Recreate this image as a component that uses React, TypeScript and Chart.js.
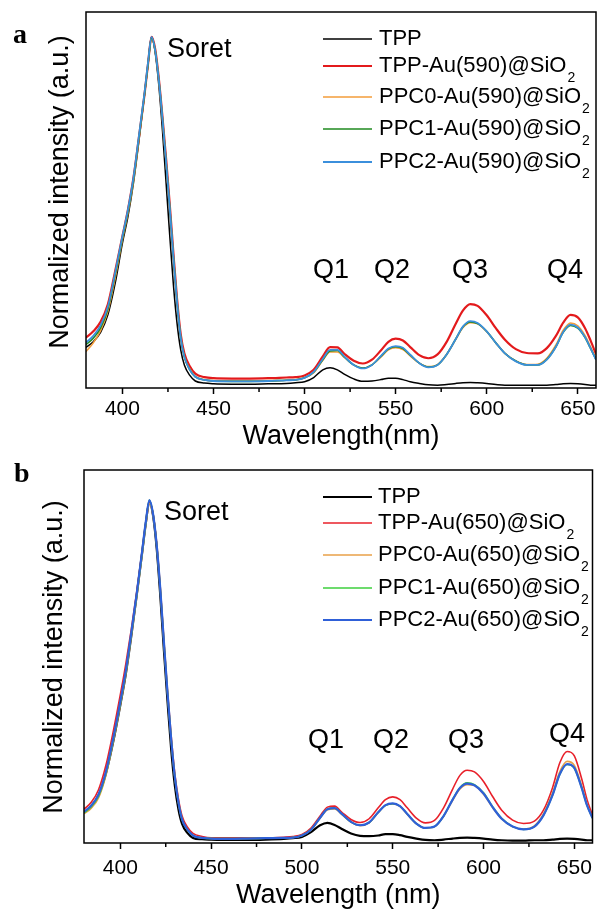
import React, { useEffect, useRef } from 'react';
import { Chart, registerables } from 'chart.js';
Chart.register(...registerables);

const SANS = "'Liberation Sans', Arial, sans-serif";
const SERIF = "'Liberation Serif', 'Times New Roman', serif";
Chart.defaults.font.family = SANS;

// wavelength grid (nm)
const WAVELENGTH = [
  380, 384, 388, 392, 396, 400, 403, 406, 409, 412, 414, 416, 418, 420, 422,
  424, 426, 428, 430, 432, 434, 437, 440, 445, 450, 460, 470, 480, 490, 495,
  500, 505, 510, 514, 518, 522, 527, 532, 537, 542, 546, 550, 554, 558, 563,
  568, 573, 578, 583, 587, 591, 595, 600, 605, 610, 616, 622, 628, 633, 638,
  642, 646, 650, 654, 657, 660,
];
const X_TICKS = [400, 450, 500, 550, 600, 650];
const X_MINOR = [425, 475, 525, 575, 625];

// ---- panel a ----
const A_TPP = [
  0.112, 0.128, 0.155, 0.205, 0.295, 0.410, 0.485, 0.580, 0.700, 0.830,
  0.920, 1.000, 0.955, 0.860, 0.730, 0.580, 0.430, 0.290, 0.180, 0.105,
  0.062, 0.032, 0.016, 0.010, 0.008, 0.007, 0.007, 0.008, 0.009, 0.011,
  0.014, 0.026, 0.048, 0.054, 0.048, 0.035, 0.022, 0.015, 0.016, 0.020,
  0.024, 0.024, 0.020, 0.014, 0.009, 0.005, 0.004, 0.006, 0.009, 0.011,
  0.012, 0.011, 0.009, 0.006, 0.004, 0.004, 0.004, 0.004, 0.004, 0.006,
  0.008, 0.009, 0.008, 0.006, 0.004, 0.004,
];
const A_TPP_AU = [
  0.140, 0.158, 0.185, 0.235, 0.330, 0.430, 0.505, 0.595, 0.710, 0.830,
  0.920, 1.000, 0.965, 0.880, 0.770, 0.650, 0.520, 0.380, 0.250, 0.150,
  0.095, 0.058, 0.037, 0.027, 0.024, 0.023, 0.023, 0.024, 0.026, 0.027,
  0.032, 0.048, 0.086, 0.113, 0.112, 0.093, 0.074, 0.066, 0.077, 0.104,
  0.128, 0.137, 0.132, 0.113, 0.090, 0.081, 0.092, 0.128, 0.180, 0.218,
  0.236, 0.231, 0.204, 0.167, 0.134, 0.107, 0.096, 0.095, 0.110, 0.145,
  0.183, 0.205, 0.198, 0.167, 0.132, 0.092,
];
const A_PPC0 = [
  0.100, 0.125, 0.160, 0.215, 0.310, 0.420, 0.495, 0.585, 0.705, 0.830,
  0.920, 0.995, 0.960, 0.875, 0.765, 0.640, 0.510, 0.370, 0.240, 0.140,
  0.085, 0.050, 0.029, 0.020, 0.017, 0.016, 0.016, 0.017, 0.018, 0.020,
  0.025, 0.040, 0.075, 0.099, 0.099, 0.083, 0.062, 0.053, 0.062, 0.085,
  0.105, 0.111, 0.106, 0.088, 0.067, 0.057, 0.063, 0.092, 0.135, 0.169,
  0.183, 0.180, 0.157, 0.125, 0.095, 0.073, 0.063, 0.064, 0.081, 0.119,
  0.161, 0.182, 0.174, 0.146, 0.114, 0.081,
];
const A_PPC1 = [
  0.120, 0.138, 0.168, 0.222, 0.320, 0.425, 0.500, 0.590, 0.710, 0.830,
  0.920, 0.997, 0.960, 0.875, 0.765, 0.640, 0.510, 0.370, 0.240, 0.140,
  0.085, 0.048, 0.028, 0.019, 0.016, 0.015, 0.015, 0.016, 0.018, 0.019,
  0.025, 0.041, 0.077, 0.102, 0.103, 0.084, 0.062, 0.053, 0.062, 0.087,
  0.107, 0.114, 0.109, 0.090, 0.067, 0.056, 0.062, 0.092, 0.136, 0.171,
  0.185, 0.180, 0.158, 0.125, 0.095, 0.073, 0.062, 0.062, 0.078, 0.114,
  0.155, 0.175, 0.167, 0.140, 0.109, 0.077,
];
const A_PPC2 = [
  0.126, 0.145, 0.175, 0.228, 0.325, 0.430, 0.505, 0.595, 0.715, 0.835,
  0.925, 1.000, 0.960, 0.875, 0.765, 0.640, 0.510, 0.370, 0.240, 0.140,
  0.085, 0.048, 0.028, 0.019, 0.016, 0.015, 0.015, 0.016, 0.018, 0.019,
  0.025, 0.042, 0.079, 0.105, 0.105, 0.085, 0.062, 0.052, 0.062, 0.088,
  0.109, 0.116, 0.111, 0.091, 0.067, 0.055, 0.062, 0.092, 0.136, 0.172,
  0.187, 0.182, 0.158, 0.125, 0.095, 0.072, 0.062, 0.062, 0.077, 0.114,
  0.156, 0.177, 0.169, 0.141, 0.110, 0.077,
];

// ---- panel b ----
const B_TPP = [
  0.085, 0.102, 0.135, 0.198, 0.290, 0.400, 0.490, 0.600, 0.720, 0.845,
  0.930, 0.995, 0.955, 0.860, 0.720, 0.560, 0.410, 0.270, 0.165, 0.095,
  0.052, 0.025, 0.011, 0.007, 0.006, 0.005, 0.005, 0.006, 0.008, 0.010,
  0.014, 0.028, 0.048, 0.055, 0.049, 0.037, 0.024, 0.017, 0.016, 0.018,
  0.022, 0.022, 0.019, 0.014, 0.009, 0.005, 0.004, 0.006, 0.009, 0.011,
  0.012, 0.011, 0.009, 0.006, 0.004, 0.003, 0.003, 0.004, 0.004, 0.006,
  0.008, 0.009, 0.008, 0.006, 0.004, 0.004,
];
const B_TPP_AU = [
  0.095, 0.115, 0.152, 0.222, 0.320, 0.430, 0.520, 0.620, 0.730, 0.850,
  0.930, 0.995, 0.960, 0.875, 0.745, 0.590, 0.440, 0.310, 0.200, 0.125,
  0.075, 0.042, 0.024, 0.015, 0.011, 0.011, 0.011, 0.011, 0.013, 0.015,
  0.021, 0.040, 0.075, 0.101, 0.104, 0.086, 0.065, 0.056, 0.067, 0.099,
  0.123, 0.131, 0.123, 0.099, 0.069, 0.055, 0.062, 0.099, 0.154, 0.194,
  0.209, 0.204, 0.176, 0.132, 0.092, 0.063, 0.053, 0.060, 0.092, 0.158,
  0.231, 0.264, 0.251, 0.185, 0.123, 0.077,
];
const B_PPC0 = [
  0.082, 0.098, 0.128, 0.193, 0.290, 0.400, 0.490, 0.600, 0.715, 0.840,
  0.925, 0.990, 0.955, 0.870, 0.740, 0.585, 0.435, 0.300, 0.190, 0.115,
  0.065, 0.035, 0.018, 0.011, 0.009, 0.008, 0.009, 0.010, 0.011, 0.012,
  0.018, 0.034, 0.069, 0.093, 0.096, 0.079, 0.057, 0.047, 0.055, 0.085,
  0.106, 0.110, 0.103, 0.080, 0.053, 0.040, 0.044, 0.074, 0.121, 0.154,
  0.167, 0.164, 0.139, 0.100, 0.067, 0.044, 0.037, 0.046, 0.081, 0.143,
  0.205, 0.235, 0.223, 0.164, 0.109, 0.070,
];
const B_PPC1 = [
  0.084, 0.102, 0.133, 0.198, 0.295, 0.405, 0.495, 0.605, 0.720, 0.845,
  0.930, 1.000, 0.960, 0.870, 0.740, 0.585, 0.435, 0.300, 0.190, 0.115,
  0.065, 0.035, 0.018, 0.011, 0.009, 0.009, 0.009, 0.010, 0.011, 0.012,
  0.018, 0.035, 0.070, 0.095, 0.098, 0.081, 0.058, 0.048, 0.056, 0.086,
  0.106, 0.111, 0.104, 0.081, 0.053, 0.040, 0.044, 0.075, 0.124, 0.158,
  0.172, 0.167, 0.143, 0.102, 0.068, 0.044, 0.036, 0.044, 0.077, 0.136,
  0.197, 0.226, 0.215, 0.158, 0.106, 0.069,
];
const B_PPC2 = [
  0.087, 0.106, 0.138, 0.203, 0.300, 0.410, 0.500, 0.610, 0.725, 0.850,
  0.935, 1.000, 0.960, 0.870, 0.740, 0.585, 0.435, 0.300, 0.190, 0.115,
  0.065, 0.035, 0.018, 0.011, 0.009, 0.008, 0.009, 0.010, 0.011, 0.012,
  0.018, 0.035, 0.070, 0.095, 0.098, 0.081, 0.058, 0.048, 0.056, 0.086,
  0.107, 0.112, 0.104, 0.081, 0.053, 0.040, 0.044, 0.075, 0.123, 0.157,
  0.170, 0.165, 0.141, 0.101, 0.067, 0.044, 0.036, 0.044, 0.077, 0.136,
  0.198, 0.227, 0.216, 0.158, 0.106, 0.069,
];

const NAMES_A = [
  ['TPP', ''],
  ['TPP-Au(590)@SiO', '2'],
  ['PPC0-Au(590)@SiO', '2'],
  ['PPC1-Au(590)@SiO', '2'],
  ['PPC2-Au(590)@SiO', '2'],
];
const NAMES_B = [
  ['TPP', ''],
  ['TPP-Au(650)@SiO', '2'],
  ['PPC0-Au(650)@SiO', '2'],
  ['PPC1-Au(650)@SiO', '2'],
  ['PPC2-Au(650)@SiO', '2'],
];
const Y_TITLE = 'Normalized intensity (a.u.)';
const PEAK_LABELS = ['Q1', 'Q2', 'Q3', 'Q4'];

type Spec = {
  key: string;
  letter: string;
  letterX: number;
  letterY: number;
  series: { values: number[]; color: string; width: number; order: number }[];
  names: string[][];
  yMax: number;
  padTop: number;
  padRight: number;
  yAxisWidth: number;
  xAxisHeight: number;
  xTickPad: number;
  xTitle: string;
  xTitlePad: number;
  yTitleX: number;
  yTitleY: number;
  legendRows: number[];
  legendLineX: [number, number];
  legendTextX: number;
  soret: [number, number];
  qX: number[];
  qY: number[];
};

const SPEC_A: Spec = {
  key: 'a',
  letter: 'a',
  letterX: 13,
  letterY: 43,
  series: [
    { values: A_TPP, color: '#000000', width: 1.5, order: 4 },
    { values: A_TPP_AU, color: '#e31a1c', width: 2.2, order: 3 },
    { values: A_PPC0, color: '#f39c3a', width: 1.6, order: 2 },
    { values: A_PPC1, color: '#1f8a1f', width: 1.6, order: 1 },
    { values: A_PPC2, color: '#3b8fdc', width: 1.8, order: 0 },
  ],
  names: NAMES_A,
  yMax: 1.071,
  padTop: 12,
  padRight: 3,
  yAxisWidth: 86,
  xAxisHeight: 71,
  xTickPad: 3,
  xTitle: 'Wavelength(nm)',
  xTitlePad: 6,
  yTitleX: 61,
  yTitleY: 192,
  legendRows: [27, 54, 85, 117, 150],
  legendLineX: [323, 372],
  legendTextX: 379,
  soret: [167, 57],
  qX: [331, 392, 470, 565],
  qY: [278, 278, 278, 278],
};

const SPEC_B: Spec = {
  key: 'b',
  letter: 'b',
  letterX: 14,
  letterY: 23,
  series: [
    { values: B_TPP, color: '#000000', width: 2.2, order: 4 },
    { values: B_TPP_AU, color: '#e8202a', width: 1.6, order: 3 },
    { values: B_PPC0, color: '#e8a048', width: 1.6, order: 2 },
    { values: B_PPC1, color: '#3ccf3c', width: 1.6, order: 1 },
    { values: B_PPC2, color: '#2f60d8', width: 2.2, order: 0 },
  ],
  names: NAMES_B,
  yMax: 1.088,
  padTop: 11,
  padRight: 4,
  yAxisWidth: 84,
  xAxisHeight: 75,
  xTickPad: 7,
  xTitle: 'Wavelength (nm)',
  xTitlePad: 6,
  yTitleX: 55,
  yTitleY: 198,
  legendRows: [27, 53, 85, 118, 150],
  legendLineX: [323, 372],
  legendTextX: 378,
  soret: [164, 61],
  qX: [326, 391, 466, 567],
  qY: [289, 289, 289, 283],
};

function decorPlugin(spec: Spec) {
  return {
    id: 'decor_' + spec.key,
    afterDraw(chart: any) {
      const { ctx, chartArea: ca, scales } = chart;
      ctx.save();
      ctx.strokeStyle = '#000';
      ctx.fillStyle = '#000';
      ctx.lineWidth = 1.5;
      ctx.strokeRect(ca.left, ca.top, ca.right - ca.left, ca.bottom - ca.top);
      // minor ticks
      X_MINOR.forEach((v) => {
        const px = scales.x.getPixelForValue(v);
        ctx.beginPath();
        ctx.moveTo(px, ca.bottom);
        ctx.lineTo(px, ca.bottom + 4);
        ctx.stroke();
      });
      // y title
      ctx.save();
      ctx.translate(spec.yTitleX, spec.yTitleY);
      ctx.rotate(-Math.PI / 2);
      ctx.font = `27px ${SANS}`;
      ctx.textAlign = 'center';
      ctx.textBaseline = 'middle';
      ctx.fillText(Y_TITLE, 0, 0);
      ctx.restore();
      // panel letter
      ctx.font = `bold 28px ${SERIF}`;
      ctx.textAlign = 'left';
      ctx.textBaseline = 'alphabetic';
      ctx.fillText(spec.letter, spec.letterX, spec.letterY);
      // Soret and Q labels
      ctx.font = `27px ${SANS}`;
      ctx.fillText('Soret', spec.soret[0], spec.soret[1]);
      ctx.textAlign = 'center';
      PEAK_LABELS.forEach((t, i) => ctx.fillText(t, spec.qX[i], spec.qY[i]));
      // legend
      ctx.textAlign = 'left';
      ctx.textBaseline = 'middle';
      spec.names.forEach((nm, i) => {
        const s = spec.series[i];
        const y = ca.top + spec.legendRows[i];
        ctx.strokeStyle = s.color;
        ctx.lineWidth = s.width;
        ctx.beginPath();
        ctx.moveTo(spec.legendLineX[0], y);
        ctx.lineTo(spec.legendLineX[1], y);
        ctx.stroke();
        ctx.font = `22px ${SANS}`;
        ctx.fillStyle = '#000';
        ctx.fillText(nm[0], spec.legendTextX, y);
        if (nm[1]) {
          const w = ctx.measureText(nm[0]).width;
          ctx.font = `14px ${SANS}`;
          ctx.fillText(nm[1], spec.legendTextX + w + 1, y + 12);
        }
      });
      ctx.restore();
    },
  };
}

function makeConfig(spec: Spec): any {
  return {
    type: 'line',
    data: {
      datasets: spec.series.map((s, i) => ({
        label: spec.names[i].join(''),
        data: WAVELENGTH.map((x, j) => ({ x, y: s.values[j] })),
        borderColor: s.color,
        backgroundColor: s.color,
        borderWidth: s.width,
        pointRadius: 0,
        fill: false,
        cubicInterpolationMode: 'monotone',
        order: s.order,
      })),
    },
    options: {
      animation: false,
      responsive: false,
      maintainAspectRatio: false,
      layout: { padding: { left: 0, right: spec.padRight, top: spec.padTop, bottom: 0 } },
      plugins: { legend: { display: false }, tooltip: { enabled: false }, title: { display: false } },
      scales: {
        x: {
          type: 'linear',
          min: 380,
          max: 660,
          afterBuildTicks: (s: any) => {
            s.ticks = X_TICKS.map((v) => ({ value: v }));
          },
          afterFit: (s: any) => {
            s.height = spec.xAxisHeight;
          },
          ticks: {
            color: '#000',
            font: { size: 21 },
            padding: spec.xTickPad,
            maxRotation: 0,
            autoSkip: false,
            callback: (v: any) => String(v),
          },
          grid: {
            display: true,
            drawOnChartArea: false,
            drawTicks: true,
            tickLength: 6,
            tickColor: '#000',
            tickWidth: 1.5,
          },
          border: { display: false },
          title: {
            display: true,
            text: spec.xTitle,
            color: '#000',
            font: { size: 27 },
            padding: { top: 0, bottom: spec.xTitlePad },
          },
        },
        y: {
          type: 'linear',
          min: -0.004,
          max: spec.yMax,
          afterFit: (s: any) => {
            s.width = spec.yAxisWidth;
          },
          ticks: { display: false },
          grid: { display: false },
          border: { display: false },
          title: { display: false },
        },
      },
    },
    plugins: [decorPlugin(spec)],
  };
}

function Panel({ spec }: { spec: Spec }) {
  const ref = useRef<HTMLCanvasElement | null>(null);
  useEffect(() => {
    if (!ref.current) return;
    const chart = new Chart(ref.current, makeConfig(spec));
    return () => chart.destroy();
  }, [spec]);
  return <canvas ref={ref} width={599} height={459} style={{ display: 'block', width: 599, height: 459 }} />;
}

export default function App() {
  return (
    <div style={{ position: 'absolute', left: 0, top: 0, width: 599, height: 918, background: '#fff' }}>
      <Panel spec={SPEC_A} />
      <Panel spec={SPEC_B} />
    </div>
  );
}
